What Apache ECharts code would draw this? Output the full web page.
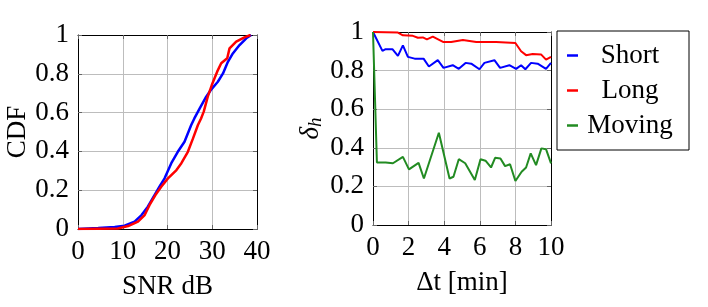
<!DOCTYPE html>
<html>
<head>
<meta charset="utf-8">
<script src="https://cdn.jsdelivr.net/npm/echarts@6/dist/echarts.min.js"></script>
<style>html,body{margin:0;padding:0;background:#fff}#c{width:708px;height:307px}</style>
</head>
<body>
<div id="c"></div>
<script>
// ---- Left panel: CDF of SNR ----
const cdfBlueSnr  = [0, 4.5, 8.2, 10.4, 12.65, 14.2, 15.6, 17.1, 18.2, 19.35, 20.85, 22.3, 23.8, 25.3, 26.0, 27.2, 28.65, 29.8, 31.25, 32.4, 33.5, 34.6, 36.1, 37.6, 38.7];
const cdfBlueProb = [0, 0.005, 0.01, 0.017, 0.038, 0.072, 0.115, 0.175, 0.218, 0.261, 0.339, 0.398, 0.45, 0.536, 0.57, 0.622, 0.682, 0.72, 0.759, 0.802, 0.862, 0.905, 0.948, 0.983, 1.0];
const cdfRedSnr   = [0, 8.9, 11.2, 13.4, 14.9, 16.0, 17.3, 18.6, 20.1, 22.0, 23.1, 24.55, 25.7, 26.8, 27.5, 28.1, 29.0, 29.9, 31.1, 32.0, 33.35, 33.86, 35.35, 37.2, 38.55];
const cdfRedProb  = [0, 0.003, 0.015, 0.038, 0.072, 0.124, 0.175, 0.218, 0.261, 0.304, 0.339, 0.398, 0.467, 0.536, 0.57, 0.605, 0.682, 0.742, 0.811, 0.854, 0.88, 0.931, 0.966, 0.988, 1.0];

// ---- Right panel: delta_h vs time ----
const shortT  = [0, 0.53, 0.71, 1.09, 1.40, 1.68, 1.96, 2.34, 2.84, 3.14, 3.64, 3.96, 4.48, 4.82, 5.2, 5.52, 5.98, 6.26, 6.82, 7.14, 7.66, 8.04, 8.32, 8.56, 8.88, 9.25, 9.72, 10];
const shortV  = [1.0, 0.902, 0.911, 0.911, 0.876, 0.931, 0.871, 0.862, 0.862, 0.821, 0.854, 0.814, 0.828, 0.809, 0.84, 0.836, 0.807, 0.84, 0.854, 0.814, 0.828, 0.809, 0.828, 0.807, 0.84, 0.836, 0.809, 0.84];
const longT   = [0, 1.40, 1.68, 2.24, 2.52, 2.80, 3.03, 3.36, 3.96, 4.39, 5.05, 5.8, 6.92, 8.0, 8.32, 8.6, 8.97, 9.44, 9.72, 10];
const longV   = [1.0, 0.997, 0.983, 0.98, 0.97, 0.972, 0.962, 0.976, 0.948, 0.948, 0.959, 0.948, 0.948, 0.943, 0.9, 0.88, 0.886, 0.884, 0.857, 0.871];
const movingT = [0, 0.22, 0.71, 1.12, 1.68, 2.02, 2.56, 2.86, 3.70, 4.30, 4.52, 4.82, 5.18, 5.72, 6.04, 6.32, 6.63, 6.86, 7.16, 7.42, 7.70, 8.0, 8.35, 8.6, 8.86, 9.16, 9.46, 9.72, 10];
const movingV = [1.0, 0.324, 0.324, 0.32, 0.353, 0.288, 0.322, 0.241, 0.478, 0.241, 0.25, 0.341, 0.32, 0.233, 0.341, 0.333, 0.298, 0.348, 0.345, 0.305, 0.315, 0.228, 0.276, 0.298, 0.371, 0.31, 0.397, 0.393, 0.319];

const seriesNames = ['Short', 'Long', 'Moving'];

const zip = (a, b) => a.map((v, i) => [v, b[i]]);
const FONT = '"Liberation Serif", "DejaVu Serif", serif';
const txt = {fontFamily: FONT, fontSize: 27, color: '#000'};

function mainAxis(gi, min, max, interval, pos, extra) {
  return Object.assign({
    type: 'value', gridIndex: gi, min, max, interval, position: pos,
    axisLine: {show: true, onZero: false, lineStyle: {color: '#000', width: 1}},
    axisTick: {show: true, inside: true, length: 4, lineStyle: {color: '#666', width: 1}},
    axisLabel: Object.assign({show: true, margin: 9}, txt),
    splitLine: {show: true, lineStyle: {color: '#bdbdbd', width: 1}}
  }, extra || {});
}
function mirrorAxis(gi, min, max, interval, pos) {
  return {
    type: 'value', gridIndex: gi, min, max, interval, position: pos,
    axisLine: {show: true, onZero: false, lineStyle: {color: '#000', width: 1}},
    axisTick: {show: true, inside: true, length: 4, lineStyle: {color: '#666', width: 1}},
    axisLabel: {show: false},
    splitLine: {show: false}
  };
}

const chart = echarts.init(document.getElementById('c'), null, {renderer: 'canvas'});
chart.setOption({
  animation: false,
  backgroundColor: '#fff',
  grid: [
    {left: 78, top: 35, width: 179, height: 194},
    {left: 373, top: 32, width: 178, height: 193}
  ],
  xAxis: [
    mainAxis(0, 0, 40, 10, 'bottom', {name: 'SNR dB', nameLocation: 'middle', nameGap: 44, nameTextStyle: txt}),
    mirrorAxis(0, 0, 40, 10, 'top'),
    mainAxis(1, 0, 10, 2, 'bottom', {name: 'Δt [min]', nameLocation: 'middle', nameGap: 44, nameTextStyle: txt}),
    mirrorAxis(1, 0, 10, 2, 'top')
  ],
  yAxis: [
    mainAxis(0, 0, 1, 0.2, 'left', {name: 'CDF', nameLocation: 'middle', nameGap: 47, nameRotate: 90, nameTextStyle: txt}),
    mirrorAxis(0, 0, 1, 0.2, 'right'),
    mainAxis(1, 0, 1, 0.2, 'left', {
      name: '{d|δ}{s|h}', nameLocation: 'middle', nameGap: 48, nameRotate: 90,
      nameTextStyle: {fontFamily: FONT, color: '#000', rich: {
        d: {fontFamily: FONT, fontSize: 27, fontStyle: 'italic', color: '#000'},
        s: {fontFamily: FONT, fontSize: 19, fontStyle: 'italic', color: '#000', verticalAlign: 'bottom', padding: [10, 0, 0, 0]}
      }}
    }),
    mirrorAxis(1, 0, 1, 0.2, 'right')
  ],
  legend: {
    data: seriesNames,
    orient: 'vertical',
    left: 557, top: 31,
    icon: 'rect', itemWidth: 11, itemHeight: 2.5, itemGap: 8,
    padding: [11, 12, 11, 10],
    borderColor: '#000', borderWidth: 1, backgroundColor: '#fff',
    formatter: '{a|{name}}',
    textStyle: {fontFamily: FONT, fontSize: 27, color: '#000', rich: {
      a: {fontFamily: FONT, fontSize: 27, color: '#000', width: 94, align: 'center', lineHeight: 26}
    }}
  },
  series: [
    {type: 'line', name: 'cdf1', xAxisIndex: 0, yAxisIndex: 0, data: zip(cdfBlueSnr, cdfBlueProb), symbol: 'none', lineStyle: {color: '#0000ff', width: 2.5}, itemStyle: {color: '#0000ff'}},
    {type: 'line', name: 'cdf2', xAxisIndex: 0, yAxisIndex: 0, data: zip(cdfRedSnr, cdfRedProb), symbol: 'none', lineStyle: {color: '#ff0000', width: 2.5}, itemStyle: {color: '#ff0000'}},
    {type: 'line', name: seriesNames[0], xAxisIndex: 2, yAxisIndex: 2, data: zip(shortT, shortV), symbol: 'none', lineStyle: {color: '#0000ff', width: 2}, itemStyle: {color: '#0000ff'}},
    {type: 'line', name: seriesNames[1], xAxisIndex: 2, yAxisIndex: 2, data: zip(longT, longV), symbol: 'none', lineStyle: {color: '#ff0000', width: 2}, itemStyle: {color: '#ff0000'}},
    {type: 'line', name: seriesNames[2], xAxisIndex: 2, yAxisIndex: 2, data: zip(movingT, movingV), symbol: 'none', lineStyle: {color: '#228b22', width: 2}, itemStyle: {color: '#228b22'}}
  ]
});
</script>
</body>
</html>
